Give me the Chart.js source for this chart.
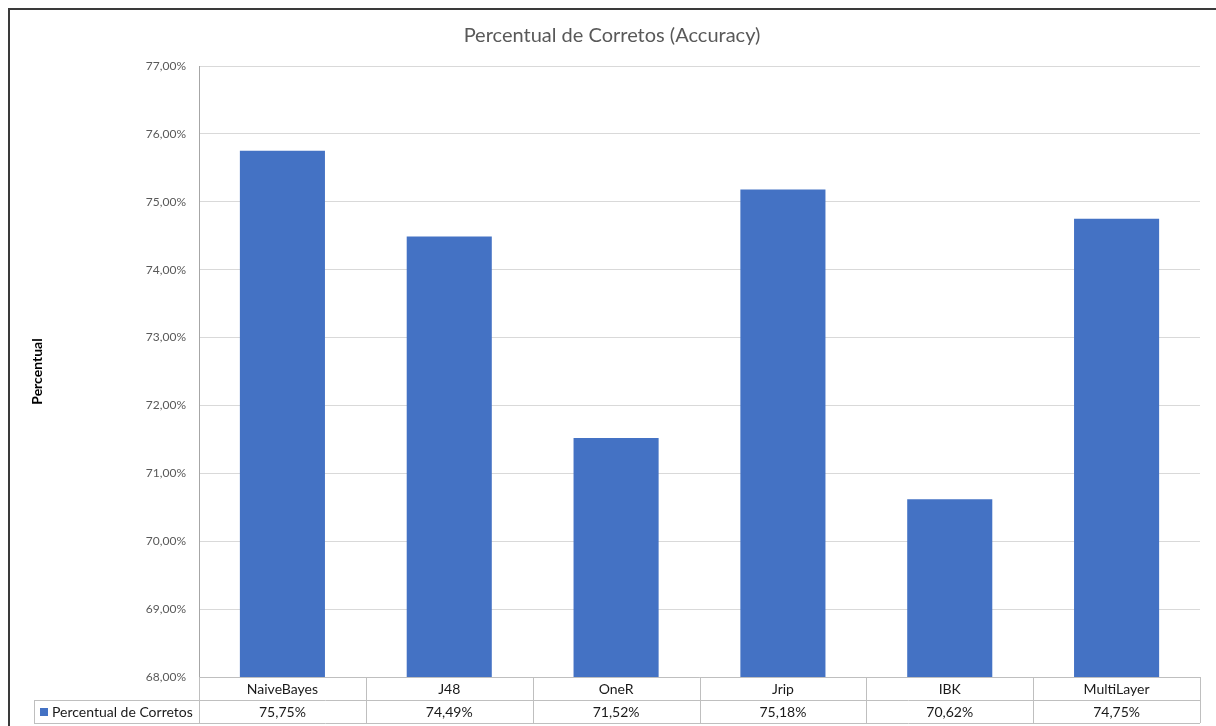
<!DOCTYPE html>
<html>
<head>
<meta charset="utf-8">
<script src="https://cdn.jsdelivr.net/npm/chart.js@4/dist/chart.umd.min.js"></script>
<style>
  html, body { margin: 0; padding: 0; background: #fff; }
  #wrap { width: 1216px; height: 726px; position: relative; }
</style>
</head>
<body>
<div id="wrap"><canvas id="chartAccuracy" width="1216" height="726"></canvas></div>
<script>
// dados
const categories = ["NaiveBayes", "J48", "OneR", "Jrip", "IBK", "MultiLayer"];
const accuracy = [75.75, 74.49, 71.52, 75.18, 70.62, 74.75];
const seriesName = "Percentual de Corretos";
const chartTitle = "Percentual de Corretos (Accuracy)";
const yTitle = "Percentual";
const yMin = 68;
const yMax = 77;

const FONT = "Lato, 'Open Sans', sans-serif";
const BAR_COLOR = "#4472C4";
const GRID = "#d9d9d9";
const TABLE_LINE = "#bfbfbf";

function fmtPct(v, dec) {
  return Number(v).toFixed(dec).replace(".", ",") + "%";
}

// moldura do gráfico (borda do Excel)
const framePlugin = {
  id: "frame",
  beforeDraw(chart) {
    const ctx = chart.ctx;
    ctx.save();
    ctx.fillStyle = "#fff";
    ctx.fillRect(0, 0, chart.width, chart.height);
    ctx.strokeStyle = "#3a3a3a";
    ctx.lineWidth = 2;
    ctx.beginPath();
    ctx.moveTo(9, chart.height);
    ctx.lineTo(9, 9);
    ctx.lineTo(chart.width, 9);
    ctx.stroke();
    ctx.restore();
  },
};

// tabela de dados abaixo do eixo x
const dataTablePlugin = {
  id: "dataTable",
  afterDraw(chart) {
    const ctx = chart.ctx;
    const area = chart.chartArea;
    const n = categories.length;
    const step = (area.right - area.left) / n;
    const rowH = 23;
    const y0 = area.bottom;
    const y1 = y0 + rowH;
    const y2 = y1 + rowH;
    const legendLeft = 34;

    ctx.save();
    ctx.strokeStyle = TABLE_LINE;
    ctx.lineWidth = 1;
    ctx.beginPath();
    // linhas horizontais
    ctx.moveTo(area.left, y0 + 0.5); ctx.lineTo(area.right, y0 + 0.5);
    ctx.moveTo(legendLeft, y1 + 0.5); ctx.lineTo(area.right, y1 + 0.5);
    ctx.moveTo(legendLeft, y2 + 0.5); ctx.lineTo(area.right, y2 + 0.5);
    // linhas verticais
    for (let i = 0; i <= n; i++) {
      const x = Math.round(area.left + i * step) + 0.5;
      ctx.moveTo(x, y0); ctx.lineTo(x, y2);
    }
    ctx.moveTo(legendLeft + 0.5, y1); ctx.lineTo(legendLeft + 0.5, y2);
    ctx.stroke();

    ctx.fillStyle = "#1a1a1a";
    ctx.font = "14px " + FONT;
    ctx.textAlign = "center";
    ctx.textBaseline = "middle";
    categories.forEach((c, i) => {
      const cx = chart.scales.x.getPixelForValue(i);
      ctx.fillText(c, cx, y0 + rowH / 2 + 1);
      ctx.fillText(fmtPct(accuracy[i], 2), cx, y1 + rowH / 2 + 1);
    });

    // legenda
    ctx.fillStyle = BAR_COLOR;
    ctx.fillRect(legendLeft + 6, y1 + 8, 8, 8);
    ctx.fillStyle = "#1a1a1a";
    ctx.textAlign = "left";
    ctx.fillText(seriesName, legendLeft + 18, y1 + rowH / 2 + 1);
    ctx.restore();
  },
};

new Chart(document.getElementById("chartAccuracy"), {
  type: "bar",
  data: {
    labels: categories,
    datasets: [{
      label: seriesName,
      data: accuracy,
      backgroundColor: BAR_COLOR,
      barPercentage: 1,
      categoryPercentage: 0.51,
    }],
  },
  options: {
    responsive: false,
    animation: false,
    layout: { padding: { left: 24, right: 16, top: 0, bottom: 41 } },
    plugins: {
      legend: { display: false },
      tooltip: { enabled: false },
      title: {
        display: true,
        text: chartTitle,
        color: "#595959",
        font: { family: FONT, size: 20, weight: "normal" },
        padding: { top: 24, bottom: 18 },
      },
    },
    scales: {
      x: {
        grid: { display: false },
        border: { display: false },
        ticks: { display: false },
      },
      y: {
        min: yMin,
        max: yMax,
        afterFit: (scale) => { scale.width = 175; },
        grid: { color: GRID, drawTicks: false },
        border: { display: true, color: "#a6a6a6" },
        ticks: {
          stepSize: 1,
          padding: 13,
          color: "#595959",
          font: { family: FONT, size: 12 },
          callback: (v) => fmtPct(v, 2),
        },
        title: {
          display: true,
          text: yTitle,
          color: "#000",
          font: { family: FONT, size: 14, weight: "bold" },
          padding: { top: 5, bottom: 0 },
        },
      },
    },
  },
  plugins: [framePlugin, dataTablePlugin],
});
</script>
</body>
</html>
